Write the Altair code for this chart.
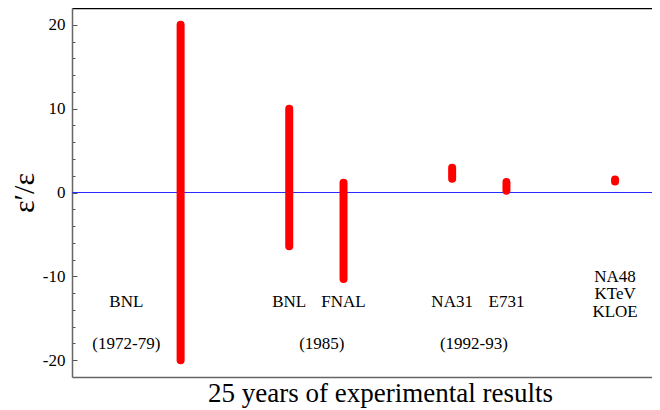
import altair as alt
import pandas as pd

# Experimental measurements of eps'/eps (units of 1e-3)
exp_name = ["BNL 72-79", "BNL 85", "FNAL 85", "NA31", "E731", "NA48/KTeV/KLOE"]
exp_x = [2, 4, 5, 7, 8, 10]
exp_lo = [-20, -6.4, -10.3, 1.65, 0.2, 1.3]
exp_hi = [20, 10, 1.15, 2.95, 1.25, 1.55]

label_text = ["BNL", "(1972-79)", "BNL", "FNAL", "(1985)", "NA31", "E731",
              "(1992-93)", "NA48", "KTeV", "KLOE"]
label_x = [1, 1, 4, 5, 4.6, 7, 8, 7.4, 10, 10, 10]
label_y = [-13.65, -18.7, -13.65, -13.65, -18.7, -13.65, -13.65, -18.7,
           -10.7, -12.75, -14.85]

tick_values = list(range(-20, 21, 2))
major_values = [-20, -10, 0, 10, 20]

W, H = 580, 369
FONT = "Liberation Serif, Times New Roman, serif"

bars_df = pd.DataFrame({"name": exp_name, "x": exp_x, "lo": exp_lo, "hi": exp_hi})
lab_df = pd.DataFrame({"t": label_text, "lx": label_x, "ly": label_y})

xscale = alt.Scale(domain=[0, 10.68], nice=False, zero=False)
yscale = alt.Scale(domain=[-22, 22], nice=False, zero=False)

zero = alt.Chart().mark_rule(color="#2a2aff", strokeWidth=1.2).encode(
    y=alt.YDatum(0, type="quantitative", scale=yscale,
                 axis=alt.Axis(orient="right", offset=-W, values=tick_values,
                               labels=False, domain=False, grid=False,
                               tickColor="#555555", tickWidth=1,
                               tickSize={"condition": {"test": "datum.value % 10 === 0", "value": 5}, "value": 3},
                               title=None))
)

bars = alt.Chart(bars_df).mark_rule(color="#ff0000", strokeWidth=8, strokeCap="round").encode(
    x=alt.X("x:Q", scale=xscale,
            axis=alt.Axis(orient="bottom", labels=False, ticks=False, grid=False,
                          domainColor="#666666", domainWidth=1.5,
                          title="25 years of experimental results",
                          titleFont=FONT, titleFontSize=27, titleFontWeight="normal",
                          titleColor="black", titleX=308, titleY=24,
                          titleBaseline="alphabetic", titleAlign="center")),
    y=alt.Y("lo:Q", scale=yscale,
            axis=alt.Axis(orient="left", values=major_values, ticks=False, grid=False,
                          domainColor="#666666", domainWidth=1.5,
                          labelFont=FONT, labelFontSize=17, labelColor="black",
                          labelPadding=7, labelExpr="datum.value + ''",
                          title="ε′/ε", titleFont=FONT, titleFontSize=30,
                          titleFontWeight="normal", titleColor="black",
                          titleAngle=-90, titleX=-48, titleY=H / 2,
                          titleAlign="center", titleBaseline="middle")),
    y2="hi:Q",
)

labels = alt.Chart(lab_df).mark_text(font=FONT, fontSize=17, color="black",
                                     baseline="alphabetic", align="center").encode(
    x=alt.X("lx:Q", scale=xscale,
            axis=alt.Axis(orient="top", labels=False, ticks=False, grid=False,
                          domainColor="black", domainWidth=1.5, title=None)),
    y=alt.Y("ly:Q", scale=yscale, axis=None),
    text="t:N",
)

chart = alt.layer(zero, bars, labels).resolve_axis(
    x="independent", y="independent"
).properties(
    width=W, height=H,
    autosize=alt.AutoSizeParams(type="none"),
    padding={"left": 64, "top": 0, "right": 0, "bottom": 33},
).configure_view(stroke=None).configure(background="white", font=FONT)

chart.save("out.html", embed_options={"renderer": "svg", "actions": False})
